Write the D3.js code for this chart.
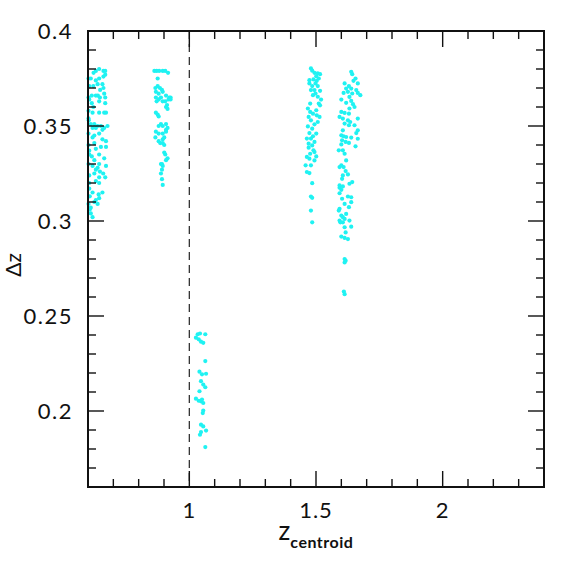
<!DOCTYPE html>
<html>
<head>
<meta charset="utf-8">
<script src="https://cdn.jsdelivr.net/npm/d3@7"></script>
<style>
  body { margin: 0; background: #fff; }
  text { font-family: "Lato", "Liberation Sans", sans-serif; }
</style>
</head>
<body>
<script>
"use strict";

// clusters of (z_centroid, delta z)
var group1 = [
  [0.631,0.379],[0.644,0.380],[0.661,0.379],[0.668,0.379],[0.622,0.378],[0.602,0.375],[0.611,0.375],
  [0.631,0.374],[0.644,0.375],[0.661,0.376],[0.668,0.377],[0.605,0.371],[0.621,0.371],[0.638,0.372],
  [0.657,0.372],[0.661,0.370],[0.648,0.369],[0.602,0.365],[0.615,0.366],[0.631,0.366],[0.639,0.366],
  [0.647,0.365],[0.664,0.367],[0.668,0.365],[0.605,0.364],[0.615,0.362],[0.621,0.360],[0.644,0.363],
  [0.668,0.362],[0.602,0.358],[0.618,0.357],[0.644,0.357],[0.664,0.357],[0.671,0.357],[0.602,0.354],
  [0.603,0.353],[0.611,0.351],[0.625,0.351],[0.638,0.350],[0.651,0.350],[0.664,0.349],[0.677,0.350],
  [0.618,0.349],[0.631,0.349],[0.657,0.348],[0.602,0.346],[0.625,0.345],[0.644,0.346],[0.657,0.343],
  [0.671,0.342],[0.618,0.344],[0.602,0.340],[0.625,0.341],[0.631,0.338],[0.651,0.339],[0.605,0.337],
  [0.671,0.339],[0.605,0.335],[0.615,0.334],[0.644,0.335],[0.664,0.333],[0.625,0.332],[0.602,0.330],
  [0.618,0.329],[0.644,0.330],[0.671,0.329],[0.638,0.328],[0.631,0.327],[0.647,0.326],[0.660,0.325],
  [0.625,0.325],[0.605,0.324],[0.644,0.323],[0.668,0.323],[0.605,0.320],[0.631,0.321],[0.644,0.320],
  [0.605,0.317],[0.618,0.315],[0.642,0.314],[0.657,0.315],[0.607,0.313],[0.631,0.311],[0.644,0.312],
  [0.602,0.309],[0.611,0.307],[0.625,0.310],[0.638,0.309],[0.607,0.306],[0.611,0.304],[0.618,0.302]
];

var group2 = [
  [0.862,0.379],[0.871,0.379],[0.881,0.379],[0.895,0.379],[0.905,0.379],[0.916,0.378],[0.875,0.375],
  [0.866,0.370],[0.875,0.371],[0.884,0.370],[0.892,0.369],[0.868,0.368],[0.879,0.367],[0.895,0.368],
  [0.868,0.365],[0.879,0.364],[0.888,0.365],[0.908,0.366],[0.921,0.365],[0.926,0.365],[0.905,0.363],
  [0.918,0.364],[0.926,0.364],[0.871,0.363],[0.895,0.363],[0.912,0.361],[0.908,0.360],[0.914,0.359],
  [0.868,0.357],[0.875,0.356],[0.879,0.355],[0.879,0.350],[0.888,0.351],[0.895,0.350],[0.908,0.351],
  [0.914,0.349],[0.908,0.348],[0.868,0.347],[0.879,0.346],[0.895,0.346],[0.908,0.347],[0.866,0.344],
  [0.879,0.342],[0.895,0.343],[0.901,0.344],[0.885,0.341],[0.895,0.341],[0.901,0.340],[0.901,0.336],
  [0.905,0.335],[0.914,0.333],[0.908,0.332],[0.892,0.330],[0.888,0.330],[0.895,0.329],[0.892,0.327],
  [0.888,0.325],[0.892,0.322],[0.895,0.319]
];

var group3 = [
  [1.033,0.2404],[1.042,0.2408],[1.026,0.2386],[1.037,0.2377],[1.046,0.2365],[1.055,0.2359],[1.063,0.2404],
  [1.063,0.2263],[1.040,0.2207],[1.050,0.2193],[1.066,0.2196],[1.046,0.2157],[1.055,0.2139],[1.063,0.2125],
  [1.040,0.2104],[1.026,0.2065],[1.037,0.2054],[1.046,0.2051],[1.055,0.2042],[1.050,0.2060],[1.053,0.1989],
  [1.055,0.2002],[1.046,0.1928],[1.055,0.1919],[1.066,0.1897],[1.046,0.1889],[1.042,0.1875],[1.063,0.1810]
];

var group4 = [
  [1.480,0.3803],[1.485,0.3791],[1.494,0.3780],[1.507,0.3777],[1.516,0.3773],[1.501,0.3762],[1.474,0.3741],
  [1.490,0.3745],[1.503,0.3738],[1.498,0.3724],[1.485,0.3710],[1.507,0.3710],[1.480,0.3689],[1.494,0.3689],
  [1.516,0.3685],[1.488,0.3662],[1.507,0.3654],[1.520,0.3639],[1.511,0.3618],[1.516,0.3609],[1.468,0.3592],
  [1.477,0.3574],[1.488,0.3565],[1.503,0.3556],[1.514,0.3548],[1.480,0.3530],[1.494,0.3509],[1.468,0.3498],
  [1.485,0.3486],[1.501,0.3460],[1.474,0.3463],[1.464,0.3434],[1.480,0.3434],[1.494,0.3416],[1.485,0.3398],
  [1.471,0.3386],[1.490,0.3372],[1.477,0.3354],[1.494,0.3363],[1.464,0.3337],[1.474,0.3328],[1.494,0.3319],
  [1.459,0.3293],[1.480,0.3293],[1.464,0.3258],[1.474,0.3252],[1.485,0.3199],[1.480,0.3129],[1.485,0.3122],
  [1.480,0.3055],[1.485,0.2993],[1.474,0.3724],[1.511,0.3750],[1.498,0.3671],[1.477,0.3618],[1.501,0.3583],
  [1.471,0.3548],[1.507,0.3521],[1.488,0.3446],[1.471,0.3407],[1.501,0.3340]
];

var group5 = [
  [1.639,0.3785],[1.643,0.3773],[1.656,0.3750],[1.648,0.3738],[1.665,0.3724],[1.613,0.3724],[1.630,0.3710],
  [1.619,0.3697],[1.639,0.3697],[1.659,0.3689],[1.609,0.3674],[1.626,0.3680],[1.643,0.3671],[1.665,0.3674],
  [1.675,0.3662],[1.632,0.3653],[1.600,0.3639],[1.639,0.3632],[1.619,0.3622],[1.646,0.3615],[1.652,0.3600],
  [1.632,0.3592],[1.600,0.3574],[1.613,0.3569],[1.630,0.3565],[1.593,0.3548],[1.606,0.3539],[1.626,0.3530],
  [1.635,0.3521],[1.665,0.3539],[1.613,0.3513],[1.630,0.3504],[1.652,0.3504],[1.665,0.3477],[1.606,0.3477],
  [1.659,0.3463],[1.600,0.3451],[1.609,0.3446],[1.619,0.3442],[1.639,0.3439],[1.665,0.3433],[1.603,0.3425],
  [1.617,0.3416],[1.630,0.3411],[1.600,0.3403],[1.656,0.3393],[1.590,0.3372],[1.606,0.3372],[1.613,0.3354],
  [1.619,0.3319],[1.600,0.3293],[1.609,0.3284],[1.593,0.3284],[1.617,0.3263],[1.626,0.3245],[1.606,0.3240],
  [1.603,0.3222],[1.643,0.3205],[1.632,0.3196],[1.593,0.3187],[1.606,0.3182],[1.593,0.3175],[1.600,0.3164],
  [1.593,0.3146],[1.626,0.3129],[1.639,0.3125],[1.603,0.3117],[1.639,0.3099],[1.613,0.3090],[1.630,0.3073],
  [1.593,0.3064],[1.590,0.3055],[1.600,0.3029],[1.606,0.3020],[1.613,0.3011],[1.619,0.3037],[1.593,0.3002],
  [1.606,0.2993],[1.596,0.2993],[1.632,0.3002],[1.639,0.2970],[1.613,0.2967],[1.617,0.2940],[1.600,0.2918],
  [1.613,0.2911],[1.626,0.2905],[1.613,0.2800],[1.617,0.2791],[1.613,0.2782],[1.610,0.2629],[1.613,0.2615]
];

var xDomain = [0.6, 2.4];
var yDomain = [0.16, 0.4];
var xMajor = [1, 1.5, 2];
var yMajor = [0.2, 0.25, 0.3, 0.35, 0.4];
var xLabels = ["1", "1.5", "2"];
var yLabels = ["0.2", "0.25", "0.3", "0.35", "0.4"];
var refLine = 1;

var width = 574, height = 574;
var margin = { left: 88, right: 30, top: 31, bottom: 87 };

var svg = d3.select("body")
  .append("svg")
  .attr("width", width)
  .attr("height", height);

var x = d3.scaleLinear().domain(xDomain).range([margin.left, width - margin.right]);
var y = d3.scaleLinear().domain(yDomain).range([height - margin.bottom, margin.top]);

var allPoints = group1.concat(group2, group3, group4, group5);

// points
svg.append("g")
  .selectAll("circle")
  .data(allPoints)
  .enter()
  .append("circle")
  .attr("cx", function (d) { return x(d[0]); })
  .attr("cy", function (d) { return y(d[1]); })
  .attr("r", 2.1)
  .attr("fill", "#1ff2f2");

// dashed line at z = 1
svg.append("line")
  .attr("x1", x(refLine)).attr("x2", x(refLine))
  .attr("y1", y(yDomain[1])).attr("y2", y(yDomain[0]))
  .attr("stroke", "#333")
  .attr("stroke-width", 1.3)
  .attr("stroke-dasharray", "8,5");

// ticks on all four sides, pointing in
var xMinor = d3.range(7, 24).map(function (i) { return i / 10; });
var yMinor = d3.range(17, 40).map(function (i) { return i / 100; });

function isMajor(v, list) {
  return list.some(function (m) { return Math.abs(m - v) < 1e-6; });
}

var ticks = svg.append("g")
  .attr("stroke", "#111")
  .attr("stroke-width", 1.4);

xMinor.forEach(function (v) {
  var len = isMajor(v, xMajor) ? 16 : 8;
  ticks.append("line")
    .attr("x1", x(v)).attr("x2", x(v))
    .attr("y1", y(yDomain[0])).attr("y2", y(yDomain[0]) - len);
  ticks.append("line")
    .attr("x1", x(v)).attr("x2", x(v))
    .attr("y1", y(yDomain[1])).attr("y2", y(yDomain[1]) + len);
});

yMinor.forEach(function (v) {
  var len = isMajor(v, yMajor) ? 16 : 8;
  ticks.append("line")
    .attr("x1", x(xDomain[0])).attr("x2", x(xDomain[0]) + len)
    .attr("y1", y(v)).attr("y2", y(v));
  ticks.append("line")
    .attr("x1", x(xDomain[1])).attr("x2", x(xDomain[1]) - len)
    .attr("y1", y(v)).attr("y2", y(v));
});

// frame
svg.append("rect")
  .attr("x", x(xDomain[0]))
  .attr("y", y(yDomain[1]))
  .attr("width", x(xDomain[1]) - x(xDomain[0]))
  .attr("height", y(yDomain[0]) - y(yDomain[1]))
  .attr("fill", "none")
  .attr("stroke", "#111")
  .attr("stroke-width", 2);

// tick labels
svg.append("g")
  .selectAll("text")
  .data(xMajor)
  .enter()
  .append("text")
  .attr("x", function (d) { return x(d); })
  .attr("y", 518)
  .attr("text-anchor", "middle")
  .attr("font-size", 22)
  .attr("letter-spacing", 1)
  .attr("fill", "#111")
  .text(function (d, i) { return xLabels[i]; });

svg.append("g")
  .selectAll("text")
  .data(yMajor)
  .enter()
  .append("text")
  .attr("x", 73)
  .attr("y", function (d) { return y(d) + 8; })
  .attr("text-anchor", "end")
  .attr("font-size", 22)
  .attr("letter-spacing", 1.5)
  .attr("fill", "#111")
  .text(function (d, i) { return yLabels[i]; });

// axis titles
var xt = svg.append("text")
  .attr("x", 316)
  .attr("y", 540)
  .attr("text-anchor", "middle")
  .attr("fill", "#111");
xt.append("tspan").attr("font-size", 26).text("z");
xt.append("tspan").attr("font-size", 16).attr("font-weight", "bold")
  .attr("letter-spacing", 0.5).attr("dy", 8).text("centroid");

svg.append("text")
  .attr("transform", "translate(21,265) rotate(-90)")
  .attr("text-anchor", "middle")
  .attr("font-size", 21)
  .attr("fill", "#111")
  .text("Δz");
</script>
</body>
</html>
